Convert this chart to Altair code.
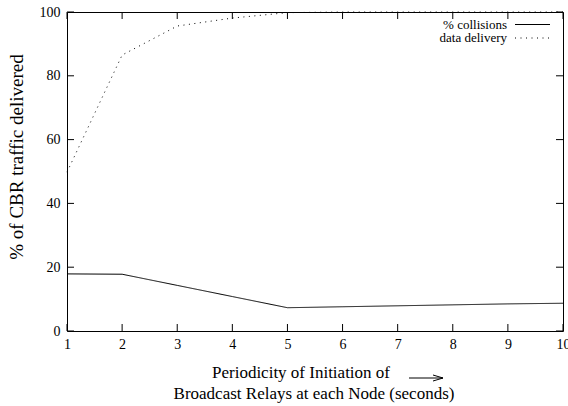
import altair as alt
import pandas as pd

periods = [1, 2, 3, 4, 5, 6, 7, 8, 9, 10]
collisions = [17.9, 17.8, 14.3, 10.8, 7.3, 7.6, 7.9, 8.2, 8.5, 8.7]
delivery = [49.8, 86.5, 95.6, 98.1, 99.8, 100, 100, 100, 100, 100]
series_names = ["% collisions", "data delivery"]
x_ticks = list(range(1, 11))
y_ticks = [0, 20, 40, 60, 80, 100]
xtitle_lines = ["Periodicity of Initiation of", "Broadcast Relays at each Node (seconds)"]
ytitle = "% of CBR traffic delivered"

FONT = "Liberation Serif"
W, H = 496, 319
DASHES = [[1, 0], [1, 4.5]]

rows = []
for p, c, d in zip(periods, collisions, delivery):
    rows.append({"x": p, "y": c, "series": series_names[0]})
    rows.append({"x": p, "y": d, "series": series_names[1]})
df = pd.DataFrame(rows)

xs = alt.Scale(domain=[1, 10], nice=False, zero=False)
ys = alt.Scale(domain=[0, 100], nice=False)

lines = alt.Chart(df).mark_line(color="black", strokeWidth=1).encode(
    x=alt.X("x:Q", scale=xs, axis=alt.Axis(values=x_ticks, format="d", ticks=False, domain=False,
                                          grid=False, labelFont=FONT, labelFontSize=14,
                                          labelColor="black", labelPadding=6, title=None,
                                          labelFlush=False)),
    y=alt.Y("y:Q", scale=ys, axis=alt.Axis(values=y_ticks, ticks=False, domain=False, grid=False,
                                          labelFont=FONT, labelFontSize=14, labelColor="black",
                                          labelPadding=7, title=None)),
    strokeDash=alt.StrokeDash("series:N", scale=alt.Scale(domain=series_names, range=DASHES),
                              legend=None),
)

xt = pd.DataFrame({"x": x_ticks})
yt = pd.DataFrame({"y": y_ticks})
tick_style = dict(color="black", strokeWidth=1)
bottom_ticks = alt.Chart(xt).mark_rule(**tick_style).encode(
    x=alt.X("x:Q", scale=xs), y=alt.value(H), y2=alt.value(H - 7))
top_ticks = alt.Chart(xt).mark_rule(**tick_style).encode(
    x=alt.X("x:Q", scale=xs), y=alt.value(0), y2=alt.value(7))
left_ticks = alt.Chart(yt).mark_rule(**tick_style).encode(
    y=alt.Y("y:Q", scale=ys), x=alt.value(0), x2=alt.value(7))
right_ticks = alt.Chart(yt).mark_rule(**tick_style).encode(
    y=alt.Y("y:Q", scale=ys), x=alt.value(W), x2=alt.value(W - 7))

layers = [lines, bottom_ticks, top_ticks, left_ticks, right_ticks]

# legend (top right, gnuplot style)
for i, name in enumerate(series_names):
    ypix = 12.5 + 13.5 * i
    layers.append(alt.Chart(pd.DataFrame({"t": [name]})).mark_text(
        align="right", baseline="middle", font=FONT, fontSize=13, color="black").encode(
        text="t:N", x=alt.value(440), y=alt.value(ypix)))
    layers.append(alt.Chart(pd.DataFrame({"t": [name]})).mark_rule(
        color="black", strokeWidth=1, strokeDash=DASHES[i]).encode(
        x=alt.value(448), x2=alt.value(483), y=alt.value(ypix)))

# y-axis title
layers.append(alt.Chart(pd.DataFrame({"t": [ytitle]})).mark_text(
    font=FONT, fontSize=19, color="black", align="center", baseline="middle", angle=270).encode(
    text="t:N", x=alt.value(-50), y=alt.value(145)))

# x-axis title (two lines) with arrow
for line, (xp, yp) in zip(xtitle_lines, [(234, 361), (247, 382)]):
    layers.append(alt.Chart(pd.DataFrame({"t": [line]})).mark_text(
        font=FONT, fontSize=17, color="black", align="center", baseline="middle").encode(
        text="t:N", x=alt.value(xp), y=alt.value(yp)))
for (x1, x2, y1, y2) in [(342, 376, 366, 366), (366, 376, 363, 366), (366, 376, 369, 366)]:
    layers.append(alt.Chart(pd.DataFrame({"a": [0]})).mark_rule(color="black", strokeWidth=1).encode(
        x=alt.value(x1), x2=alt.value(x2), y=alt.value(y1), y2=alt.value(y2)))

chart = alt.layer(*layers).properties(
    width=W, height=H,
    autosize=alt.AutoSizeParams(type="none"),
    padding={"left": 67, "top": 12, "right": 5, "bottom": 75},
    background="white",
).configure_view(stroke="black", strokeWidth=1)

chart.save("out.html", embed_options={"renderer": "svg", "actions": False})
